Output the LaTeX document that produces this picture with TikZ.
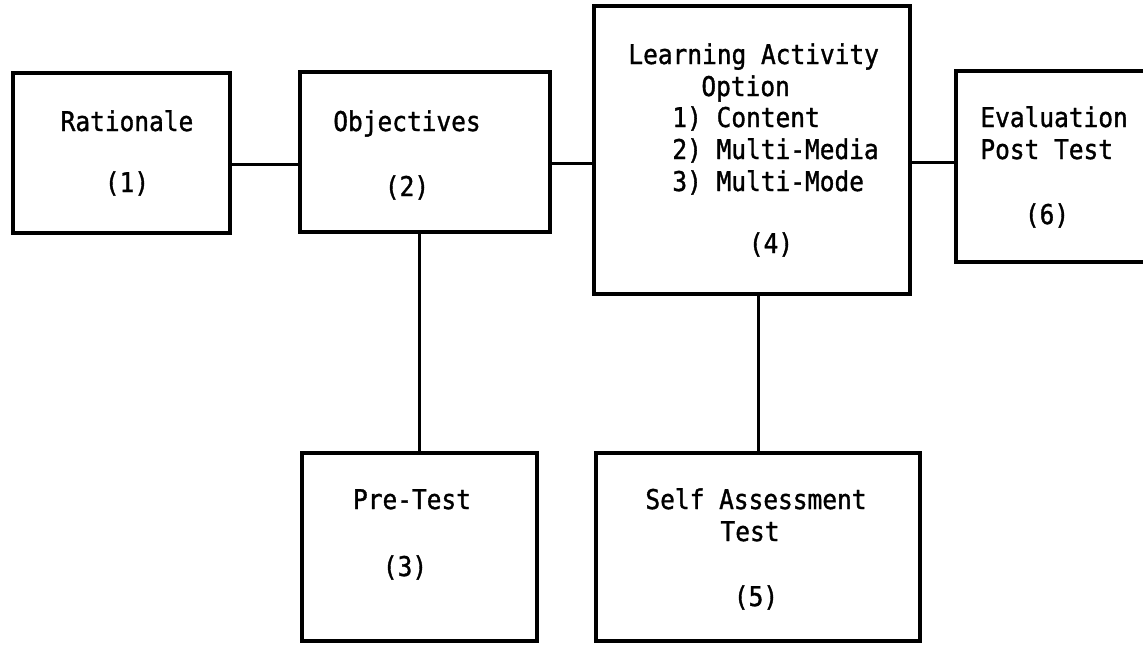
\documentclass[tikz,border=0pt]{standalone}
\usepackage{fontspec}
\setmonofont[FakeStretch=0.9, FakeBold=1.2]{DejaVu Sans Mono}
\usepackage{tikz}
\usetikzlibrary{positioning}
\tikzset{
  unit/.style={draw, line width=1.8pt, inner sep=0pt},
  link/.style={line width=1.5pt},
  txt/.style={font=\fontsize{13.6}{15.75}\selectfont\ttfamily, inner sep=0pt},
}

\begin{document}
\begin{tikzpicture}[x=0.5pt, y=-0.5pt]
  \useasboundingbox (0,0) rectangle (1143,644);
  \clip (0,0) rectangle (1143,644);
  % boxes
  \node[unit, minimum width=108.5pt, minimum height=80pt] (rat) at (121.5,153) {};
  \node[unit, minimum width=125pt, minimum height=80pt] (obj) at (425,152) {};
  \node[unit, minimum width=158pt, minimum height=144pt] (lao) at (752,150) {};
  \node[unit, minimum width=107pt, minimum height=95.5pt] (eval) at (1063,166.5) {};
  \node[unit, minimum width=117.5pt, minimum height=94pt] (pre) at (419.5,547) {};
  \node[unit, minimum width=162pt, minimum height=94pt] (sat) at (758,547) {};
  % texts
  \node[txt, anchor=base] (ratname) at (127,131) {Rationale};
  \node[txt, anchor=base] (ratnum) at (127,192) {(1)};
  \node[txt, anchor=base] (objname) at (407,131) {Objectives};
  \node[txt, anchor=base] (objnum) at (407,196) {(2)};
  \node[txt, anchor=base west] (laoname) at (628,64) {Learning Activity};
  \node[txt, anchor=base west] (laoopt) at (701,96) {Option};
  \node[txt, anchor=base west] (laoa) at (672,127) {1) Content};
  \node[txt, anchor=base west] (laob) at (672,159) {2) Multi-Media};
  \node[txt, anchor=base west] (laoc) at (672,191) {3) Multi-Mode};
  \node[txt, anchor=base] (laonum) at (771,253) {(4)};
  \node[txt, anchor=base west] (evalname) at (980,127) {Evaluation};
  \node[txt, anchor=base west] (evalpost) at (980,159) {Post Test};
  \node[txt, anchor=base] (evalnum) at (1047,224) {(6)};
  \node[txt, anchor=base] (prename) at (412,509) {Pre-Test};
  \node[txt, anchor=base] (prenum) at (405,576) {(3)};
  \node[txt, anchor=base] (satname) at (756,509) {Self Assessment};
  \node[txt, anchor=base] (sattest) at (750,541) {Test};
  \node[txt, anchor=base] (satnum) at (756,606) {(5)};
  % connectors
  \draw[link] (rat.east |- 0,164) -- (obj.west |- 0,164);
  \draw[link] (obj.east |- 0,163) -- (lao.west |- 0,163);
  \draw[link] (lao.east |- 0,162) -- (eval.west |- 0,162);
  \draw[link] (pre.north) -- (pre.north |- obj.south);
  \draw[link] (sat.north) -- (sat.north |- lao.south);
\end{tikzpicture}
\end{document}
